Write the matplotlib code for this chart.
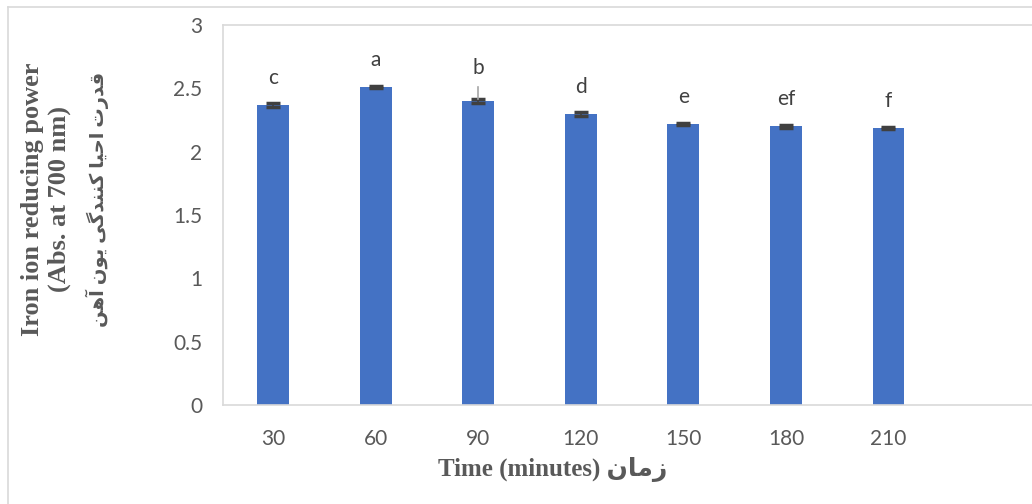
import matplotlib
matplotlib.use('Agg')
import matplotlib.pyplot as plt
from matplotlib.lines import Line2D

times = ['30', '60', '90', '120', '150', '180', '210']
power = [2.37, 2.51, 2.40, 2.30, 2.22, 2.20, 2.19]
errors = [0.015, 0.008, 0.015, 0.015, 0.008, 0.012, 0.008]
letters = ['c', 'a', 'b', 'd', 'e', 'ef', 'f']

ylabel_en = 'Iron ion reducing power\n(Abs. at 700 nm)'
ylabel_fa = 'قدرت احیا کنندگی یون آهن'
xlabel_en = 'Time (minutes)'
xlabel_fa = 'زمان'

# contextual forms: isolated, final, initial, medial
FORMS = {
    'ا': ('\uFE8D', '\uFE8E'), 'آ': ('\uFE81', '\uFE82'),
    'د': ('\uFEA9', '\uFEAA'), 'ر': ('\uFEAD', '\uFEAE'),
    'ز': ('\uFEAF', '\uFEB0'), 'و': ('\uFEED', '\uFEEE'),
    'ت': ('\uFE95', '\uFE96', '\uFE97', '\uFE98'),
    'ح': ('\uFEA1', '\uFEA2', '\uFEA3', '\uFEA4'),
    'ق': ('\uFED5', '\uFED6', '\uFED7', '\uFED8'),
    'ک': ('\uFB8E', '\uFB8F', '\uFB90', '\uFB91'),
    'گ': ('\uFB92', '\uFB93', '\uFB94', '\uFB95'),
    'ن': ('\uFEE5', '\uFEE6', '\uFEE7', '\uFEE8'),
    'ه': ('\uFEE9', '\uFEEA', '\uFEEB', '\uFEEC'),
    'م': ('\uFEE1', '\uFEE2', '\uFEE3', '\uFEE4'),
    'ی': ('\uFBFC', '\uFBFD', '\uFBFE', '\uFBFF'),
}


def shape_fa(s):
    out = []
    for i, ch in enumerate(s):
        if ch not in FORMS:
            out.append(ch)
            continue
        prev = s[i - 1] if i > 0 else ''
        nxt = s[i + 1] if i + 1 < len(s) else ''
        j_prev = prev in FORMS and len(FORMS[prev]) == 4
        j_next = len(FORMS[ch]) == 4 and nxt in FORMS
        f = FORMS[ch]
        if j_prev and j_next:
            out.append(f[3])
        elif j_prev:
            out.append(f[1])
        elif j_next:
            out.append(f[2])
        else:
            out.append(f[0])
    return ''.join(out)[::-1]


W, H = 1032, 504
fig = plt.figure(figsize=(W / 100, H / 100), dpi=100)
ax = fig.add_axes([223 / W, 1 - 405 / H, 1 - 223 / W, (405 - 25) / H])

grey = '#d9d9d9'
x = list(range(len(times)))
ax.bar(x, power, width=0.31, color='#4472C4', zorder=2)
ax.errorbar(x, power, yerr=errors, fmt='none', ecolor='#404040',
            elinewidth=1.2, capsize=5, capthick=2.5, zorder=3)

for i, (v, lab) in enumerate(zip(power, letters)):
    off = 27
    if lab == 'b':
        # label pushed up, with a leader line back to the bar
        off = 33
        ax.plot([i, i], [v + errors[i], v + 0.11], color='#a6a6a6',
                lw=1.2, zorder=3)
    ax.annotate(lab, xy=(i, v), xytext=(0, off),
                textcoords='offset pixels', ha='center', va='center',
                fontsize=15, color='#404040', family='Lato')

ax.set_xlim(-0.49, 7.4)
ax.set_ylim(0, 3)
ax.set_yticks([0, 0.5, 1, 1.5, 2, 2.5, 3])
ax.set_yticklabels(['0', '0.5', '1', '1.5', '2', '2.5', '3'])
ax.set_xticks(x)
ax.set_xticklabels(times)
ax.tick_params(length=0, labelsize=15, labelcolor='#595959')
ax.tick_params(axis='y', pad=15)
ax.tick_params(axis='x', pad=17)
for lbl in ax.get_xticklabels() + ax.get_yticklabels():
    lbl.set_family('Lato')
for side in ['left', 'top', 'bottom']:
    ax.spines[side].set_color(grey)
    ax.spines[side].set_linewidth(1.2)
ax.spines['right'].set_visible(False)

# outer chart border
fig.add_artist(Line2D([8 / W, 8 / W], [0, 1 - 7 / H], color=grey, lw=1.2,
                      transform=fig.transFigure))
fig.add_artist(Line2D([8 / W, 1], [1 - 7 / H, 1 - 7 / H], color=grey, lw=1.2,
                      transform=fig.transFigure))

fam = ['Liberation Serif', 'DejaVu Sans']
fig.text(46 / W, 1 - 199 / H, ylabel_en, rotation=90, ha='center', va='center',
         multialignment='center', fontsize=19, fontweight='bold',
         color='#595959', family=fam, linespacing=1.15)
fig.text(97 / W, 1 - 199 / H, shape_fa(ylabel_fa), rotation=90, ha='center',
         va='center', fontsize=14, fontweight='bold', color='#595959',
         family=fam)
fig.text(553 / W, 1 - 469 / H, xlabel_en + ' ' + shape_fa(xlabel_fa),
         ha='center', va='center', fontsize=18, fontweight='bold',
         color='#595959', family=fam)

fig.savefig('out.png', dpi=100)
